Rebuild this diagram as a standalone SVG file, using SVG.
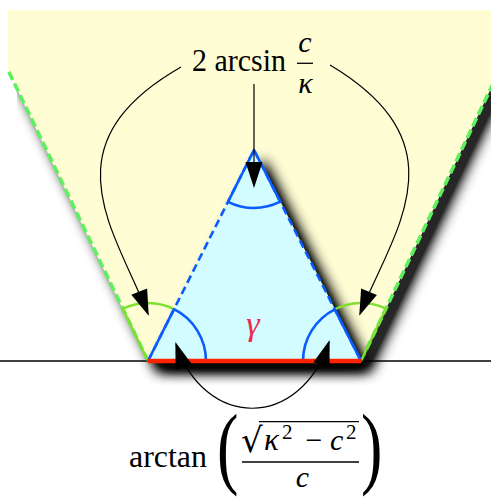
<svg xmlns="http://www.w3.org/2000/svg" width="491" height="498" viewBox="0 0 491 498">
<style>
text{font-family:'Liberation Serif','Times New Roman',serif;fill:#000}
.it{font-style:italic}
.conn{fill:none;stroke:#000;stroke-width:1.2}
.blue{stroke:#0a5cff;stroke-width:2.6;fill:none;stroke-linejoin:round}
.gdash{stroke:#5ef05e;stroke-width:3.6;stroke-dasharray:9 4;fill:none}
.gwedge{stroke:#7fe030;stroke-width:2.4;fill:none}
</style>
<defs>
<filter id="sh" filterUnits="userSpaceOnUse" x="8" y="10" width="520" height="440">
<feGaussianBlur in="SourceAlpha" stdDeviation="7"/>
<feOffset dx="9" dy="9"/>
<feComponentTransfer result="b"><feFuncA type="linear" slope="1.6"/></feComponentTransfer>
<feFlood flood-color="#000" flood-opacity="0.85"/>
<feComposite in2="b" operator="in"/>
<feMerge><feMergeNode/><feMergeNode in="SourceGraphic"/></feMerge>
</filter>
<marker id="ah" markerUnits="userSpaceOnUse" markerWidth="30" markerHeight="20" refX="24" refY="8.5" orient="auto-start-reverse" overflow="visible">
<path d="M0,0 L26,8.5 L0,17 z" fill="#000"/>
</marker>
</defs>

<g id="region">
<polygon points="8,10 500,10 500,69 361,361 148,361 8,70" fill="#fffdd4" filter="url(#sh)"/>
<path class="gdash" d="M148,361 L8,70"/>
<path class="gdash" d="M361,361 L500,69"/>
</g>

<g id="baseline">
<line x1="0" y1="361" x2="491" y2="361" stroke="#000" stroke-width="1.6"/>
</g>

<g id="triangle">
<polygon points="148,361 361,361 254,150" fill="#d2fcff" filter="url(#sh)"/>
<path class="blue" d="M148,361 L254,150 L361,361" stroke-dasharray="8 4.5"/>
</g>

<g id="angles">
<path class="gwedge" d="M148,361 L122.9,308.7 A58,58 0 0 1 174,309.2"/>
<path class="gwedge" d="M361,361 L385.9,308.6 A58,58 0 0 0 334.8,309.3"/>
<path class="blue" d="M148,361 L206,361 A58,58 0 0 0 174,309.2 Z"/>
<path class="blue" d="M361,361 L303,361 A58,58 0 0 1 334.8,309.3 Z"/>
<path class="blue" d="M254,150 L228,201.8 A58,58 0 0 0 280.2,201.7 Z"/>
</g>

<g id="base">
<line x1="148" y1="361" x2="361" y2="361" stroke="#ff2200" stroke-width="4.5"/>
</g>

<g id="gamma">
<text class="it" x="253" y="335" font-size="34" text-anchor="middle" style="fill:#ee2a4a">γ</text>
</g>

<g id="connectors">
<path class="conn" d="M254,84 L254,186" marker-end="url(#ah)"/>
<path class="conn" d="M181,67 C45,145 115,230 148,314" marker-end="url(#ah)"/>
<path class="conn" d="M330,65 C464,145 394,230 360,314" marker-end="url(#ah)"/>
<path class="conn" d="M176,344 C205,430 300,430 329,342" marker-start="url(#ah)" marker-end="url(#ah)"/>
</g>

<g id="label-top">
<text x="192" y="71" font-size="31" textLength="94" lengthAdjust="spacingAndGlyphs">2 arcsin</text>
<text class="it" x="305" y="52" font-size="30" text-anchor="middle">c</text>
<line x1="297" y1="63.3" x2="313" y2="63.3" stroke="#000" stroke-width="1.3"/>
<text class="it" x="305.5" y="93" font-size="30" text-anchor="middle">κ</text>
</g>

<g id="label-bottom">
<text x="129" y="467" font-size="31" textLength="78" lengthAdjust="spacingAndGlyphs">arctan</text>
<text transform="scale(0.7,1)" x="309.9" y="477" font-size="92">(</text>
<text transform="scale(0.7,1)" x="515.8" y="477" font-size="92">)</text>
<text x="241" y="452" font-size="34" style="font-family:'DejaVu Serif',serif">√</text>
<line x1="259" y1="421.7" x2="359" y2="421.7" stroke="#000" stroke-width="1.3"/>
<text class="it" x="264" y="450" font-size="31">κ</text>
<text x="282" y="439" font-size="21">2</text>
<text x="314" y="450" font-size="30" text-anchor="middle">−</text>
<text class="it" x="330" y="450" font-size="30">c</text>
<text x="346" y="439" font-size="21">2</text>
<line x1="242" y1="462" x2="359" y2="462" stroke="#000" stroke-width="1.3"/>
<text class="it" x="302.5" y="487" font-size="30" text-anchor="middle">c</text>
</g>
</svg>
